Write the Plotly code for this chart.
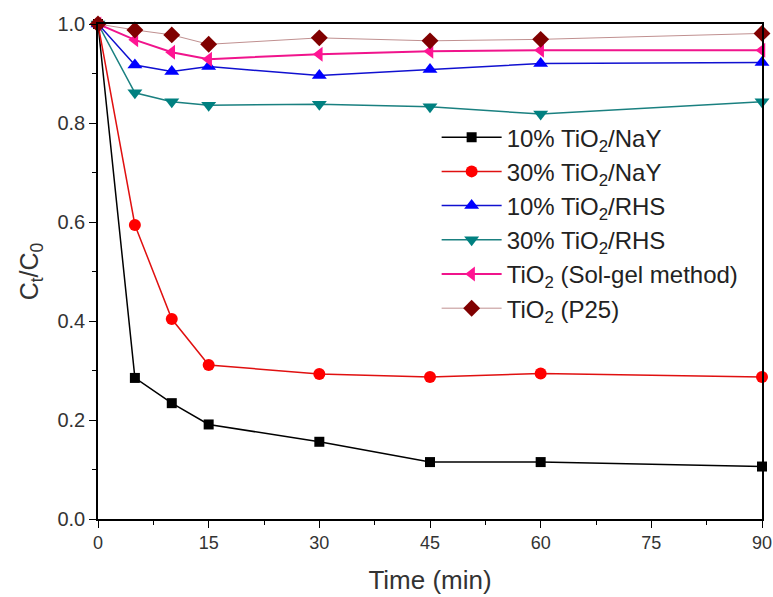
import plotly.graph_objects as go

time_min = [0, 5, 10, 15, 30, 45, 60, 90]

s_10_nay = [1.0, 0.285, 0.234, 0.191, 0.156, 0.115, 0.115, 0.106]
s_30_nay = [1.0, 0.594, 0.404, 0.311, 0.293, 0.287, 0.294, 0.287]
s_10_rhs = [1.0, 0.917, 0.904, 0.914, 0.896, 0.908, 0.920, 0.922]
s_30_rhs = [1.0, 0.861, 0.843, 0.836, 0.838, 0.833, 0.818, 0.843]
s_solgel = [1.0, 0.968, 0.943, 0.929, 0.939, 0.945, 0.947, 0.947]
s_p25 = [1.0, 0.988, 0.978, 0.959, 0.972, 0.966, 0.969, 0.981]

names = [
    "10% TiO<sub>2</sub>/NaY",
    "30% TiO<sub>2</sub>/NaY",
    "10% TiO<sub>2</sub>/RHS",
    "30% TiO<sub>2</sub>/RHS",
    "TiO<sub>2</sub> (Sol-gel method)",
    "TiO<sub>2</sub> (P25)",
]

styles = [
    dict(data=s_10_nay, line="#000000", lw=1.5, mc="#000000", sym="square", ms=10),
    dict(data=s_30_nay, line="#e01010", lw=1.5, mc="#ff0000", sym="circle", ms=12),
    dict(data=s_10_rhs, line="#1010d0", lw=1.5, mc="#0000ff", sym="triangle-up", ms=13),
    dict(data=s_30_rhs, line="#1a8080", lw=1.5, mc="#008080", sym="triangle-down", ms=13),
    dict(data=s_solgel, line="#f0148c", lw=2, mc="#ff1493", sym="triangle-left", ms=13),
    dict(data=s_p25, line="#c09090", lw=1, mc="#800000", sym="diamond", ms=13),
]

FONT = "Liberation Sans, Arial, sans-serif"

fig = go.Figure()
for name, st in zip(names, styles):
    fig.add_trace(go.Scatter(
        x=time_min, y=st["data"], name=name, mode="lines+markers",
        line=dict(color=st["line"], width=st["lw"]),
        marker=dict(symbol=st["sym"], size=st["ms"], color=st["mc"], line=dict(width=0)),
        cliponaxis=False,
    ))

axis_common = dict(
    showline=True, linecolor="#000000", linewidth=1.5, mirror=True,
    ticks="outside", ticklen=7, tickwidth=1.2, tickcolor="#000000",
    showgrid=False, zeroline=False, automargin=False,
)

fig.update_xaxes(
    range=[0, 90], tickvals=[0, 15, 30, 45, 60, 75, 90],
    tickfont=dict(family=FONT, size=18, color="#333333"),
    minor=dict(dtick=7.5, tick0=0, ticks="outside", ticklen=4, tickcolor="#000000", showgrid=False),
    title=dict(text="Time (min)", font=dict(family=FONT, size=26, color="#333333"), standoff=18),
    **axis_common,
)
fig.update_yaxes(
    range=[0, 1.0], tickvals=[0, 0.2, 0.4, 0.6, 0.8, 1.0], tickformat=".1f",
    tickfont=dict(family=FONT, size=20, color="#333333"),
    minor=dict(dtick=0.1, tick0=0, ticks="outside", ticklen=4, tickcolor="#000000", showgrid=False),
    title=dict(text="C<sub>t</sub>/C<sub>0</sub>", font=dict(family=FONT, size=25, color="#333333"), standoff=12),
    **axis_common,
)

fig.update_layout(
    width=773, height=597,
    margin=dict(l=98, r=11, t=24, b=78),
    paper_bgcolor="white", plot_bgcolor="white",
    legend=dict(
        x=0.51, y=0.816, xanchor="left", yanchor="top",
        bgcolor="rgba(0,0,0,0)", borderwidth=0,
        font=dict(family=FONT, size=24, color="#222222"),
        itemwidth=60,
    ),
    showlegend=True,
)

fig.write_html(
    "out.html",
    config={"displayModeBar": False},
    post_script="document.body.style.margin='0';document.body.style.overflow='hidden';",
)
